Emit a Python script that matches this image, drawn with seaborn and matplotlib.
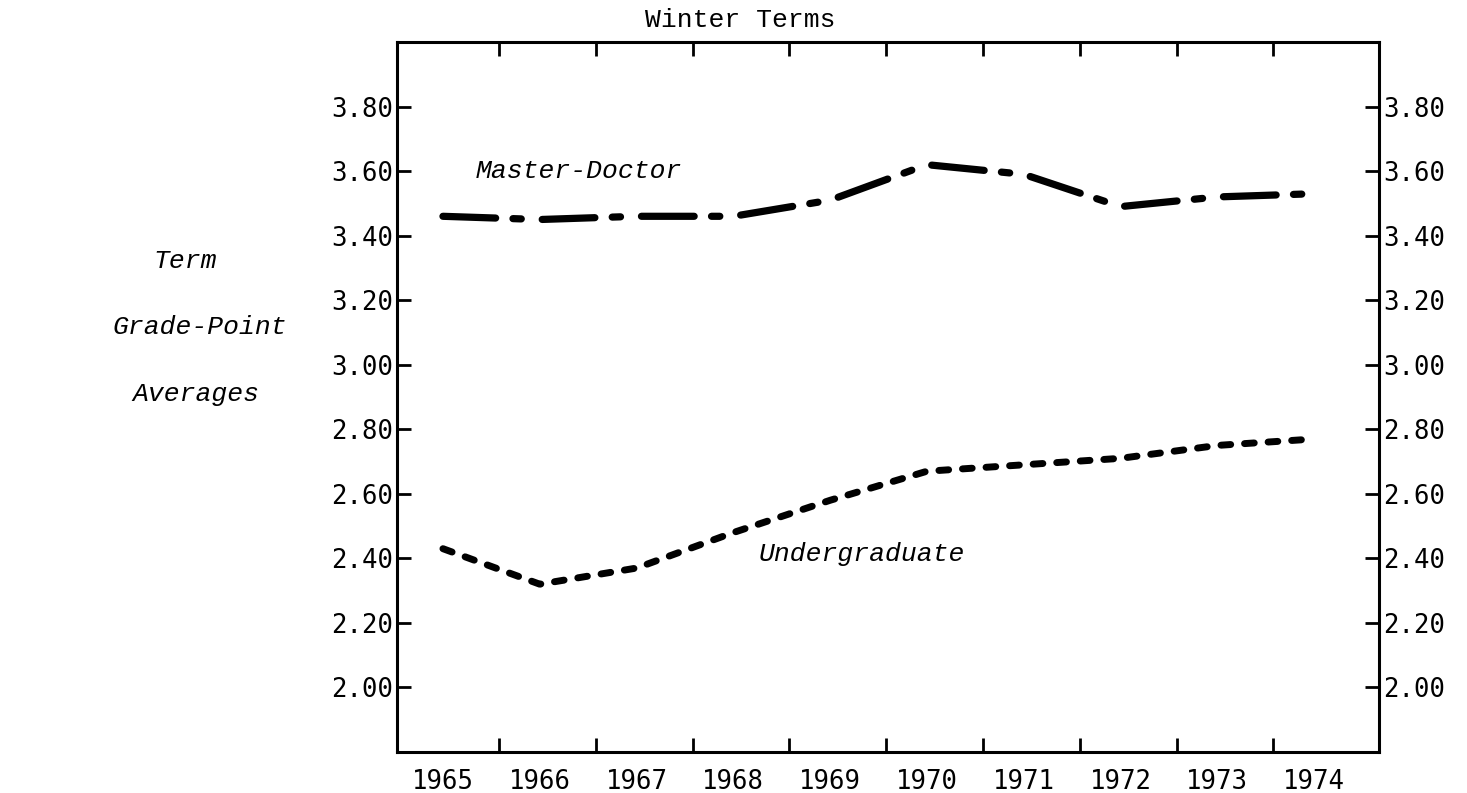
import matplotlib.pyplot as plt
import seaborn as sns
import pandas as pd
from matplotlib.ticker import FixedLocator

# Winter term grade-point averages
years = [1965, 1966, 1967, 1968, 1969, 1970, 1971, 1972, 1973, 1974]
master_doctor = [3.46, 3.45, 3.46, 3.46, 3.51, 3.62, 3.59, 3.49, 3.52, 3.53]
undergraduate = [2.43, 2.32, 2.37, 2.48, 2.58, 2.67, 2.69, 2.71, 2.75, 2.77]

y_ticks = [2.00, 2.20, 2.40, 2.60, 2.80, 3.00, 3.20, 3.40, 3.60, 3.80]
y_tick_labels = ["2.00", "2.20", "2.40", "2.60", "2.80", "3.00", "3.20", "3.40", "3.60", "3.80"]
x_tick_labels = [str(y) for y in years]

sns.set_theme(style="ticks")
plt.rcParams["font.family"] = ["DejaVu Sans Mono", "DejaVu Sans"]
plt.rcParams["text.color"] = "black"
plt.rcParams["xtick.color"] = "black"
plt.rcParams["ytick.color"] = "black"
plt.rcParams["xtick.labelcolor"] = "black"
plt.rcParams["ytick.labelcolor"] = "black"

fig = plt.figure(figsize=(14.67, 7.93), dpi=100)
ax = fig.add_axes([0.2706, 0.0517, 0.6694, 0.8953])

df = pd.DataFrame({"Year": years, "MD": master_doctor, "UG": undergraduate})

sns.lineplot(data=df, x="Year", y="MD", ax=ax, color="black", linewidth=5.2)
line = ax.lines[-1]
line.set_linestyle((0, (7.3, 2.4, 1.15, 2.9)))
line.set_dash_capstyle("round")

sns.lineplot(data=df, x="Year", y="UG", ax=ax, color="black", linewidth=5)
line = ax.lines[-1]
line.set_linestyle((0, (1.4, 2.0)))
line.set_dash_capstyle("round")

ax.set_xlim(1964.525, 1974.67)
ax.set_ylim(1.8, 4.0)
ax.set_xlabel("")
ax.set_ylabel("")

for s in ax.spines.values():
    s.set_visible(True)
    s.set_linewidth(2.2)
    s.set_color("black")

ax.set_xticks(years)
ax.set_xticklabels(x_tick_labels, fontsize=18.5)
ax.tick_params(axis="x", which="major", length=0, pad=12)
ax.xaxis.set_minor_locator(FixedLocator([y + 0.58 for y in years[:-1]]))
ax.tick_params(axis="x", which="minor", direction="in", length=10, width=2,
               top=True, bottom=True)

ax.set_yticks(y_ticks)
ax.set_yticklabels(y_tick_labels, fontsize=18.5)
ax.tick_params(axis="y", direction="in", length=10, width=2, left=True, right=True,
               labelleft=True, labelright=True, pad=3)

# series labels
ax.text(1966.4, 3.60, "Master-Doctor", family="Liberation Mono", style="italic",
        fontsize=19, ha="center", va="center", color="black")
ax.text(1969.33, 2.415, "Undergraduate", family="Liberation Mono", style="italic",
        fontsize=19, ha="center", va="center", color="black")

fig.text(740 / 1467, 1 - 20 / 793, "Winter Terms", family="Liberation Mono",
         fontsize=19, ha="center", va="center", color="black")

for txt, xx, yy in [("Term", 185, 261), ("Grade-Point", 200, 327), ("Averages", 196, 394)]:
    fig.text(xx / 1467, 1 - yy / 793, txt, family="Liberation Mono", style="italic",
             fontsize=19, ha="center", va="center", color="black")

plt.savefig("out.png", dpi=100)
